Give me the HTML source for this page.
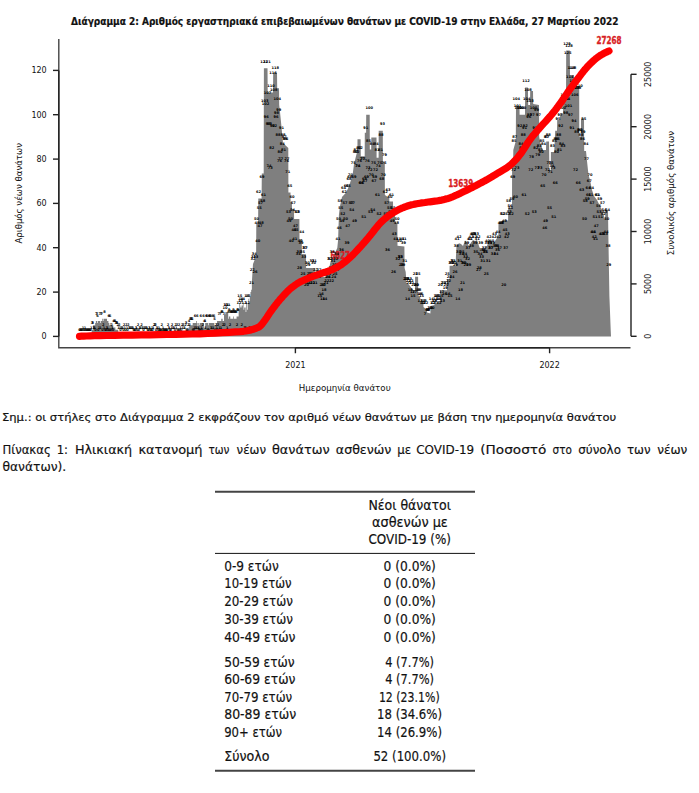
<!DOCTYPE html><html><head><meta charset="utf-8"><title>Διάγραμμα 2</title><style>html,body{margin:0;padding:0;background:#fff;}svg{display:block;}</style></head><body><svg width="699" height="793" viewBox="0 0 699 793">
<rect width="699" height="793" fill="#fff"/>
<text x="71" y="24.6" font-family='"DejaVu Sans", "Liberation Sans", sans-serif' font-weight="bold" font-stretch="condensed" font-size="10.8" textLength="547.5" lengthAdjust="spacingAndGlyphs" fill="#111" stroke="#111" stroke-width="0.2">Διάγραμμα 2: Αριθμός εργαστηριακά επιβεβαιωμένων θανάτων με COVID-19 στην Ελλάδα, 27 Μαρτίου 2022</text>
<path d="M79.15,336.4L79.15,336.4L79.85,336.4L79.85,336.4L80.54,336.4L80.54,336.4L81.24,336.4L81.24,336.4L81.94,336.4L81.94,336.4L82.63,336.4L82.63,334.2L83.33,334.2L83.33,336.4L84.03,336.4L84.03,336.4L84.72,336.4L84.72,334.2L85.42,334.2L85.42,336.4L86.12,336.4L86.12,336.4L86.81,336.4L86.81,336.4L87.51,336.4L87.51,336.4L88.21,336.4L88.21,336.4L88.90,336.4L88.90,336.4L89.60,336.4L89.60,336.4L90.30,336.4L90.30,336.4L90.99,336.4L90.99,334.2L91.69,334.2L91.69,329.7L92.39,329.7L92.39,329.7L93.08,329.7L93.08,325.3L93.78,325.3L93.78,325.3L94.47,325.3L94.47,325.3L95.17,325.3L95.17,323.1L95.87,323.1L95.87,320.9L96.56,320.9L96.56,320.9L97.26,320.9L97.26,323.1L97.96,323.1L97.96,320.9L98.65,320.9L98.65,320.9L99.35,320.9L99.35,320.9L100.05,320.9L100.05,323.1L100.74,323.1L100.74,320.9L101.44,320.9L101.44,320.9L102.14,320.9L102.14,318.7L102.83,318.7L102.83,320.9L103.53,320.9L103.53,318.7L104.23,318.7L104.23,318.7L104.92,318.7L104.92,318.7L105.62,318.7L105.62,318.7L106.32,318.7L106.32,318.7L107.01,318.7L107.01,320.9L107.71,320.9L107.71,320.9L108.40,320.9L108.40,323.1L109.10,323.1L109.10,325.3L109.80,325.3L109.80,323.1L110.49,323.1L110.49,325.3L111.19,325.3L111.19,325.3L111.89,325.3L111.89,325.3L112.58,325.3L112.58,325.3L113.28,325.3L113.28,327.5L113.98,327.5L113.98,327.5L114.67,327.5L114.67,327.5L115.37,327.5L115.37,329.7L116.07,329.7L116.07,329.7L116.76,329.7L116.76,329.7L117.46,329.7L117.46,329.7L118.16,329.7L118.16,332.0L118.85,332.0L118.85,332.0L119.55,332.0L119.55,336.4L120.25,336.4L120.25,336.4L120.94,336.4L120.94,334.2L121.64,334.2L121.64,336.4L122.33,336.4L122.33,336.4L123.03,336.4L123.03,336.4L123.73,336.4L123.73,332.0L124.42,332.0L124.42,334.2L125.12,334.2L125.12,334.2L125.82,334.2L125.82,336.4L126.51,336.4L126.51,334.2L127.21,334.2L127.21,334.2L127.91,334.2L127.91,332.0L128.60,332.0L128.60,334.2L129.30,334.2L129.30,334.2L130.00,334.2L130.00,334.2L130.69,334.2L130.69,334.2L131.39,334.2L131.39,334.2L132.09,334.2L132.09,334.2L132.78,334.2L132.78,334.2L133.48,334.2L133.48,334.2L134.18,334.2L134.18,334.2L134.87,334.2L134.87,336.4L135.57,336.4L135.57,334.2L136.26,334.2L136.26,334.2L136.96,334.2L136.96,336.4L137.66,336.4L137.66,336.4L138.35,336.4L138.35,334.2L139.05,334.2L139.05,334.2L139.75,334.2L139.75,334.2L140.44,334.2L140.44,334.2L141.14,334.2L141.14,336.4L141.84,336.4L141.84,334.2L142.53,334.2L142.53,336.4L143.23,336.4L143.23,336.4L143.93,336.4L143.93,334.2L144.62,334.2L144.62,334.2L145.32,334.2L145.32,334.2L146.02,334.2L146.02,334.2L146.71,334.2L146.71,334.2L147.41,334.2L147.41,336.4L148.11,336.4L148.11,336.4L148.80,336.4L148.80,334.2L149.50,334.2L149.50,334.2L150.19,334.2L150.19,336.4L150.89,336.4L150.89,334.2L151.59,334.2L151.59,334.2L152.28,334.2L152.28,336.4L152.98,336.4L152.98,334.2L153.68,334.2L153.68,334.2L154.37,334.2L154.37,334.2L155.07,334.2L155.07,332.0L155.77,332.0L155.77,336.4L156.46,336.4L156.46,334.2L157.16,334.2L157.16,334.2L157.86,334.2L157.86,334.2L158.55,334.2L158.55,334.2L159.25,334.2L159.25,336.4L159.95,336.4L159.95,336.4L160.64,336.4L160.64,334.2L161.34,334.2L161.34,332.0L162.04,332.0L162.04,336.4L162.73,336.4L162.73,334.2L163.43,334.2L163.43,336.4L164.12,336.4L164.12,332.0L164.82,332.0L164.82,336.4L165.52,336.4L165.52,336.4L166.21,336.4L166.21,336.4L166.91,336.4L166.91,336.4L167.61,336.4L167.61,332.0L168.30,332.0L168.30,334.2L169.00,334.2L169.00,334.2L169.70,334.2L169.70,332.0L170.39,332.0L170.39,336.4L171.09,336.4L171.09,334.2L171.79,334.2L171.79,336.4L172.48,336.4L172.48,334.2L173.18,334.2L173.18,334.2L173.88,334.2L173.88,334.2L174.57,334.2L174.57,336.4L175.27,336.4L175.27,336.4L175.97,336.4L175.97,334.2L176.66,334.2L176.66,332.0L177.36,332.0L177.36,334.2L178.05,334.2L178.05,336.4L178.75,336.4L178.75,332.0L179.45,332.0L179.45,336.4L180.14,336.4L180.14,334.2L180.84,334.2L180.84,332.0L181.54,332.0L181.54,332.0L182.23,332.0L182.23,334.2L182.93,334.2L182.93,332.0L183.63,332.0L183.63,336.4L184.32,336.4L184.32,334.2L185.02,334.2L185.02,332.0L185.72,332.0L185.72,329.7L186.41,329.7L186.41,329.7L187.11,329.7L187.11,329.7L187.81,329.7L187.81,329.7L188.50,329.7L188.50,327.5L189.20,327.5L189.20,325.3L189.90,325.3L189.90,325.3L190.59,325.3L190.59,325.3L191.29,325.3L191.29,325.3L191.98,325.3L191.98,325.3L192.68,325.3L192.68,323.1L193.38,323.1L193.38,323.1L194.07,323.1L194.07,323.1L194.77,323.1L194.77,323.1L195.47,323.1L195.47,323.1L196.16,323.1L196.16,320.9L196.86,320.9L196.86,323.1L197.56,323.1L197.56,327.5L198.25,327.5L198.25,323.1L198.95,323.1L198.95,325.3L199.65,325.3L199.65,323.1L200.34,323.1L200.34,323.1L201.04,323.1L201.04,323.1L201.74,323.1L201.74,323.1L202.43,323.1L202.43,323.1L203.13,323.1L203.13,323.1L203.83,323.1L203.83,327.5L204.52,327.5L204.52,327.5L205.22,327.5L205.22,323.1L205.91,323.1L205.91,323.1L206.61,323.1L206.61,323.1L207.31,323.1L207.31,323.1L208.00,323.1L208.00,325.3L208.70,325.3L208.70,323.1L209.40,323.1L209.40,323.1L210.09,323.1L210.09,323.1L210.79,323.1L210.79,323.1L211.49,323.1L211.49,323.1L212.18,323.1L212.18,323.1L212.88,323.1L212.88,323.1L213.58,323.1L213.58,323.1L214.27,323.1L214.27,325.3L214.97,325.3L214.97,325.3L215.67,325.3L215.67,325.3L216.36,325.3L216.36,323.1L217.06,323.1L217.06,320.9L217.76,320.9L217.76,320.9L218.45,320.9L218.45,320.9L219.15,320.9L219.15,320.9L219.84,320.9L219.84,320.9L220.54,320.9L220.54,320.9L221.24,320.9L221.24,318.7L221.93,318.7L221.93,318.7L222.63,318.7L222.63,320.9L223.33,320.9L223.33,320.9L224.02,320.9L224.02,314.2L224.72,314.2L224.72,314.2L225.42,314.2L225.42,312.0L226.11,312.0L226.11,312.0L226.81,312.0L226.81,312.0L227.51,312.0L227.51,312.0L228.20,312.0L228.20,318.7L228.90,318.7L228.90,316.4L229.60,316.4L229.60,316.4L230.29,316.4L230.29,318.7L230.99,318.7L230.99,318.7L231.69,318.7L231.69,318.7L232.38,318.7L232.38,318.7L233.08,318.7L233.08,316.4L233.77,316.4L233.77,318.7L234.47,318.7L234.47,318.7L235.17,318.7L235.17,318.7L235.86,318.7L235.86,318.7L236.56,318.7L236.56,316.4L237.26,316.4L237.26,316.4L237.95,316.4L237.95,316.4L238.65,316.4L238.65,309.8L239.35,309.8L239.35,303.1L240.04,303.1L240.04,307.6L240.74,307.6L240.74,305.4L241.44,305.4L241.44,307.6L242.13,307.6L242.13,305.4L242.83,305.4L242.83,303.1L243.53,303.1L243.53,309.8L244.22,309.8L244.22,307.6L244.92,307.6L244.92,307.6L245.62,307.6L245.62,312.0L246.31,312.0L246.31,303.1L247.01,303.1L247.01,309.8L247.70,309.8L247.70,303.1L248.40,303.1L248.40,298.7L249.10,298.7L249.10,303.1L249.79,303.1L249.79,296.5L250.49,296.5L250.49,292.1L251.19,292.1L251.19,289.8L251.88,289.8L251.88,280.8L252.00,280.0L253.00,264.0L255.00,259.0L256.10,257.0L256.30,223.6L258.10,223.6L258.30,198.6L261.60,198.6L261.80,173.6L263.70,173.6L263.90,68.2L267.50,68.2L267.70,92.4L273.00,92.4L273.20,72.8L277.00,72.8L277.20,88.3L279.00,88.3L279.20,105.0L279.80,110.0L281.80,130.0L283.00,143.0L288.30,148.0L288.40,192.5L290.50,192.5L290.60,202.0L291.90,202.0L292.00,209.0L294.00,209.0L294.10,219.0L298.80,219.0L298.90,219.0L299.40,219.0L299.50,239.2L301.80,239.2L301.90,254.0L306.00,254.3L306.10,268.0L314.70,268.0L315.00,274.0L320.00,277.0L325.00,277.0L328.00,273.0L330.50,262.0L337.30,248.0L338.10,240.0L338.90,215.0L340.00,206.0L342.00,197.0L345.70,193.0L347.80,189.0L350.00,183.0L352.60,175.0L354.00,164.0L356.80,153.0L357.40,153.0L357.50,139.3L360.60,139.3L360.80,156.3L364.70,156.3L364.80,132.7L366.10,132.7L366.20,114.7L369.70,114.7L369.80,149.4L371.20,149.4L371.30,137.6L376.50,137.6L376.60,157.7L378.60,157.7L378.70,130.7L382.80,130.7L382.90,161.9L384.80,161.9L384.90,195.0L389.30,198.0L389.40,201.4L393.00,201.4L393.20,216.0L395.00,216.0L395.20,222.0L397.40,224.0L397.50,245.8L404.40,246.5L404.60,268.0L405.70,272.0L406.50,283.0L409.00,284.5L411.00,287.4L413.00,290.0L415.00,290.0L415.10,276.8L418.10,276.8L418.20,295.0L420.30,297.6L420.40,301.0L423.40,302.0L423.50,307.0L426.90,310.0L427.00,312.5L430.40,313.5L430.50,306.0L434.50,305.0L434.60,302.4L437.00,302.4L437.90,301.0L439.90,301.0L440.00,290.3L447.00,290.3L447.10,279.0L449.50,279.0L449.60,265.7L455.80,265.7L455.90,257.0L456.50,246.0L459.00,243.3L461.00,244.0L463.00,246.0L465.00,240.6L467.00,242.4L469.00,246.0L471.00,242.4L473.00,240.0L475.00,241.0L477.00,240.0L479.00,246.0L481.00,251.0L483.00,250.0L485.00,247.0L487.00,246.0L489.00,240.0L491.00,242.0L493.00,244.0L495.00,241.0L497.00,238.0L498.40,236.0L498.50,223.8L501.90,223.8L502.00,220.5L508.10,220.5L508.20,208.0L512.00,208.0L512.10,168.0L513.20,165.0L513.30,150.0L515.80,141.0L516.00,105.7L519.50,105.7L519.60,114.7L525.00,114.7L525.10,87.6L527.90,87.6L528.20,105.0L530.00,105.0L530.20,91.0L533.00,91.0L533.20,104.0L539.00,105.0L539.20,137.0L541.00,145.7L543.00,150.0L546.00,150.0L546.20,141.4L549.00,141.4L549.40,170.0L550.80,170.0L550.90,152.0L554.20,152.0L555.20,130.7L557.00,130.7L557.20,120.0L560.00,120.0L560.20,113.6L563.00,113.6L563.20,100.7L566.00,100.7L566.20,50.5L569.80,50.5L570.00,75.0L574.00,75.0L574.20,86.0L579.20,86.0L579.30,136.5L580.90,136.5L581.00,119.0L584.00,119.0L584.20,151.0L586.00,151.0L587.00,161.0L588.50,175.0L590.00,180.0L592.00,190.0L594.00,196.0L597.00,200.0L600.00,206.0L603.00,212.0L605.00,220.0L605.50,210.3L608.00,210.3L608.30,232.0L609.40,296.0L610.70,330.0L611.00,336.4Z" fill="#7f7f7f"/>
<g font-family='"DejaVu Sans", "Liberation Sans", sans-serif' font-weight="bold" font-stretch="condensed" font-size="10.6" fill="#d81c24" stroke="#d81c24" stroke-width="0.35"><text x="330.5" y="258.8" textLength="19.5" lengthAdjust="spacingAndGlyphs">6827</text><text x="448.3" y="186.7" textLength="25" lengthAdjust="spacingAndGlyphs">13639</text><text x="596.5" y="43.8" textLength="25" lengthAdjust="spacingAndGlyphs">27268</text></g>
<g font-family='"DejaVu Sans", "Liberation Sans", sans-serif' font-size="3.6" font-weight="bold" text-anchor="middle" fill="#000"><text x="79.5" y="330.7">0</text><text x="80.2" y="330.7">0</text><text x="80.9" y="330.7">0</text><text x="81.6" y="330.7">0</text><text x="82.3" y="330.7">0</text><text x="83.0" y="328.5">1</text><text x="83.7" y="330.7">0</text><text x="84.4" y="330.7">0</text><text x="85.1" y="328.5">1</text><text x="85.8" y="330.7">0</text><text x="86.5" y="330.7">0</text><text x="87.2" y="330.7">0</text><text x="87.9" y="330.7">0</text><text x="88.6" y="330.7">0</text><text x="89.3" y="330.7">0</text><text x="89.9" y="330.7">0</text><text x="90.6" y="330.7">0</text><text x="91.3" y="328.5">1</text><text x="92.0" y="324.0">3</text><text x="92.7" y="324.0">3</text><text x="93.4" y="328.5">1</text><text x="94.1" y="328.5">1</text><text x="94.8" y="328.5">1</text><text x="95.5" y="330.7">0</text><text x="96.2" y="315.2">7</text><text x="96.9" y="315.2">7</text><text x="97.6" y="317.4">6</text><text x="98.3" y="330.7">0</text><text x="99.0" y="328.5">1</text><text x="99.7" y="315.2">7</text><text x="100.4" y="328.5">1</text><text x="101.1" y="315.2">7</text><text x="101.8" y="315.2">7</text><text x="102.5" y="330.7">0</text><text x="103.2" y="326.3">2</text><text x="103.9" y="328.5">1</text><text x="104.6" y="313.0">8</text><text x="105.3" y="330.7">0</text><text x="106.0" y="330.7">0</text><text x="106.7" y="328.5">1</text><text x="107.4" y="328.5">1</text><text x="108.1" y="330.7">0</text><text x="108.8" y="317.4">6</text><text x="109.4" y="330.7">0</text><text x="110.1" y="317.4">6</text><text x="110.8" y="330.7">0</text><text x="111.5" y="326.3">2</text><text x="112.2" y="328.5">1</text><text x="112.9" y="330.7">0</text><text x="113.6" y="321.8">4</text><text x="114.3" y="321.8">4</text><text x="115.0" y="321.8">4</text><text x="115.7" y="324.0">3</text><text x="116.4" y="324.0">3</text><text x="117.1" y="324.0">3</text><text x="117.8" y="326.3">2</text><text x="118.5" y="328.5">1</text><text x="119.2" y="326.3">2</text><text x="119.9" y="328.5">1</text><text x="120.6" y="330.7">0</text><text x="121.3" y="328.5">1</text><text x="122.0" y="328.5">1</text><text x="122.7" y="328.5">1</text><text x="123.4" y="330.7">0</text><text x="124.1" y="326.3">2</text><text x="124.8" y="328.5">1</text><text x="125.5" y="330.7">0</text><text x="126.2" y="326.3">2</text><text x="126.9" y="328.5">1</text><text x="127.6" y="330.7">0</text><text x="128.3" y="326.3">2</text><text x="129.0" y="328.5">1</text><text x="129.6" y="328.5">1</text><text x="130.3" y="328.5">1</text><text x="131.0" y="328.5">1</text><text x="131.7" y="328.5">1</text><text x="132.4" y="328.5">1</text><text x="133.1" y="328.5">1</text><text x="133.8" y="330.7">0</text><text x="134.5" y="330.7">0</text><text x="135.2" y="330.7">0</text><text x="135.9" y="328.5">1</text><text x="136.6" y="328.5">1</text><text x="137.3" y="330.7">0</text><text x="138.0" y="326.3">2</text><text x="138.7" y="330.7">0</text><text x="139.4" y="328.5">1</text><text x="140.1" y="328.5">1</text><text x="140.8" y="328.5">1</text><text x="141.5" y="326.3">2</text><text x="142.2" y="328.5">1</text><text x="142.9" y="328.5">1</text><text x="143.6" y="330.7">0</text><text x="144.3" y="328.5">1</text><text x="145.0" y="328.5">1</text><text x="145.7" y="328.5">1</text><text x="146.4" y="328.5">1</text><text x="147.1" y="328.5">1</text><text x="147.8" y="330.7">0</text><text x="148.5" y="330.7">0</text><text x="149.2" y="328.5">1</text><text x="149.8" y="328.5">1</text><text x="150.5" y="330.7">0</text><text x="151.2" y="330.7">0</text><text x="151.9" y="328.5">1</text><text x="152.6" y="330.7">0</text><text x="153.3" y="328.5">1</text><text x="154.0" y="326.3">2</text><text x="154.7" y="326.3">2</text><text x="155.4" y="326.3">2</text><text x="156.1" y="330.7">0</text><text x="156.8" y="328.5">1</text><text x="157.5" y="328.5">1</text><text x="158.2" y="330.7">0</text><text x="158.9" y="328.5">1</text><text x="159.6" y="330.7">0</text><text x="160.3" y="330.7">0</text><text x="161.0" y="330.7">0</text><text x="161.7" y="326.3">2</text><text x="162.4" y="330.7">0</text><text x="163.1" y="328.5">1</text><text x="163.8" y="330.7">0</text><text x="164.5" y="330.7">0</text><text x="165.2" y="330.7">0</text><text x="165.9" y="330.7">0</text><text x="166.6" y="330.7">0</text><text x="167.3" y="330.7">0</text><text x="168.0" y="326.3">2</text><text x="168.7" y="328.5">1</text><text x="169.3" y="328.5">1</text><text x="170.0" y="330.7">0</text><text x="170.7" y="330.7">0</text><text x="171.4" y="328.5">1</text><text x="172.1" y="326.3">2</text><text x="172.8" y="328.5">1</text><text x="173.5" y="328.5">1</text><text x="174.2" y="328.5">1</text><text x="174.9" y="330.7">0</text><text x="175.6" y="326.3">2</text><text x="176.3" y="328.5">1</text><text x="177.0" y="326.3">2</text><text x="177.7" y="330.7">0</text><text x="178.4" y="330.7">0</text><text x="179.1" y="326.3">2</text><text x="179.8" y="330.7">0</text><text x="180.5" y="328.5">1</text><text x="181.2" y="330.7">0</text><text x="181.9" y="326.3">2</text><text x="182.6" y="328.5">1</text><text x="183.3" y="326.3">2</text><text x="184.0" y="328.5">1</text><text x="184.7" y="328.5">1</text><text x="185.4" y="326.3">2</text><text x="186.1" y="324.0">3</text><text x="186.8" y="330.7">0</text><text x="187.5" y="330.7">0</text><text x="188.2" y="326.3">2</text><text x="188.9" y="321.8">4</text><text x="189.5" y="326.3">2</text><text x="190.2" y="319.6">5</text><text x="190.9" y="319.6">5</text><text x="191.6" y="319.6">5</text><text x="192.3" y="319.6">5</text><text x="193.0" y="330.7">0</text><text x="193.7" y="330.7">0</text><text x="194.4" y="328.5">1</text><text x="195.1" y="317.4">6</text><text x="195.8" y="328.5">1</text><text x="196.5" y="328.5">1</text><text x="197.2" y="317.4">6</text><text x="197.9" y="328.5">1</text><text x="198.6" y="328.5">1</text><text x="199.3" y="330.7">0</text><text x="200.0" y="330.7">0</text><text x="200.7" y="317.4">6</text><text x="201.4" y="328.5">1</text><text x="202.1" y="330.7">0</text><text x="202.8" y="326.3">2</text><text x="203.5" y="317.4">6</text><text x="204.2" y="321.8">4</text><text x="204.9" y="321.8">4</text><text x="205.6" y="328.5">1</text><text x="206.3" y="317.4">6</text><text x="207.0" y="317.4">6</text><text x="207.7" y="330.7">0</text><text x="208.4" y="330.7">0</text><text x="209.0" y="317.4">6</text><text x="209.7" y="317.4">6</text><text x="210.4" y="317.4">6</text><text x="211.1" y="328.5">1</text><text x="211.8" y="328.5">1</text><text x="212.5" y="317.4">6</text><text x="213.2" y="328.5">1</text><text x="213.9" y="317.4">6</text><text x="214.6" y="319.6">5</text><text x="215.3" y="330.7">0</text><text x="216.0" y="326.3">2</text><text x="216.7" y="328.5">1</text><text x="217.4" y="330.7">0</text><text x="218.1" y="326.3">2</text><text x="218.8" y="315.2">7</text><text x="219.5" y="328.5">1</text><text x="220.2" y="315.2">7</text><text x="220.9" y="328.5">1</text><text x="221.6" y="313.0">8</text><text x="222.3" y="313.0">8</text><text x="223.0" y="326.3">2</text><text x="223.7" y="315.2">7</text><text x="224.4" y="326.3">2</text><text x="225.1" y="308.5">10</text><text x="225.8" y="306.3">11</text><text x="226.5" y="306.3">11</text><text x="227.2" y="328.5">1</text><text x="227.9" y="306.3">11</text><text x="228.6" y="313.0">8</text><text x="229.2" y="310.7">9</text><text x="229.9" y="326.3">2</text><text x="230.6" y="313.0">8</text><text x="231.3" y="313.0">8</text><text x="232.0" y="313.0">8</text><text x="232.7" y="313.0">8</text><text x="233.4" y="310.7">9</text><text x="234.1" y="313.0">8</text><text x="234.8" y="313.0">8</text><text x="235.5" y="313.0">8</text><text x="236.2" y="313.0">8</text><text x="236.9" y="326.3">2</text><text x="237.6" y="310.7">9</text><text x="238.3" y="310.7">9</text><text x="239.0" y="304.1">12</text><text x="239.7" y="297.4">15</text><text x="240.4" y="301.9">13</text><text x="241.1" y="299.7">14</text><text x="241.8" y="326.3">2</text><text x="242.5" y="299.7">14</text><text x="243.2" y="330.7">0</text><text x="243.9" y="304.1">12</text><text x="244.6" y="328.5">1</text><text x="245.3" y="328.5">1</text><text x="246.0" y="328.5">1</text><text x="246.7" y="297.4">15</text><text x="247.4" y="304.1">12</text><text x="248.1" y="297.4">15</text><text x="248.7" y="330.7">0</text><text x="249.4" y="328.5">1</text><text x="250.1" y="328.5">1</text><text x="250.8" y="330.7">0</text><text x="251.5" y="284.1">21</text><text x="252.2" y="270.8">27</text><text x="252.9" y="259.8">32</text><text x="253.6" y="257.5">33</text><text x="254.3" y="255.3">34</text><text x="255.0" y="273.1">26</text><text x="255.7" y="257.5">33</text><text x="256.4" y="219.9">50</text><text x="257.1" y="224.3">48</text><text x="257.8" y="242.0">40</text><text x="258.5" y="193.3">62</text><text x="259.2" y="208.8">55</text><text x="259.9" y="226.5">47</text><text x="260.6" y="204.3">57</text><text x="261.3" y="224.3">48</text><text x="262.0" y="177.7">69</text><text x="262.7" y="202.1">58</text><text x="263.4" y="195.5">61</text><text x="264.1" y="62.5">121</text><text x="264.8" y="102.4">103</text><text x="265.5" y="104.6">102</text><text x="266.2" y="117.9">96</text><text x="266.9" y="62.5">121</text><text x="267.6" y="93.5">107</text><text x="268.3" y="124.5">93</text><text x="268.9" y="166.7">74</text><text x="269.6" y="124.5">93</text><text x="270.3" y="168.9">73</text><text x="271.0" y="86.9">110</text><text x="271.7" y="148.9">82</text><text x="272.4" y="126.8">92</text><text x="273.1" y="73.6">116</text><text x="273.8" y="91.3">108</text><text x="274.5" y="126.8">92</text><text x="275.2" y="69.1">118</text><text x="275.9" y="117.9">96</text><text x="276.6" y="113.5">98</text><text x="277.3" y="100.2">104</text><text x="278.0" y="135.6">88</text><text x="278.7" y="111.2">99</text><text x="279.4" y="162.2">76</text><text x="280.1" y="153.4">80</text><text x="280.8" y="160.0">77</text><text x="281.5" y="129.0">91</text><text x="282.2" y="144.5">84</text><text x="282.9" y="135.6">88</text><text x="283.6" y="151.1">81</text><text x="284.3" y="137.8">87</text><text x="285.0" y="140.1">86</text><text x="285.7" y="140.1">86</text><text x="286.4" y="162.2">76</text><text x="287.1" y="160.0">77</text><text x="287.8" y="173.3">71</text><text x="288.4" y="213.2">53</text><text x="289.1" y="222.1">49</text><text x="289.8" y="186.6">65</text><text x="290.5" y="219.9">50</text><text x="291.2" y="242.0">40</text><text x="291.9" y="197.7">60</text><text x="292.6" y="211.0">54</text><text x="293.3" y="204.3">57</text><text x="294.0" y="230.9">45</text><text x="294.7" y="239.8">41</text><text x="295.4" y="226.5">47</text><text x="296.1" y="230.9">45</text><text x="296.8" y="213.2">53</text><text x="297.5" y="213.2">53</text><text x="298.2" y="255.3">34</text><text x="298.9" y="253.1">35</text><text x="299.6" y="268.6">28</text><text x="300.3" y="242.0">40</text><text x="301.0" y="244.2">39</text><text x="301.7" y="233.2">44</text><text x="302.4" y="253.1">35</text><text x="303.1" y="275.3">25</text><text x="303.8" y="257.5">33</text><text x="304.5" y="248.7">37</text><text x="305.2" y="248.7">37</text><text x="305.9" y="279.7">23</text><text x="306.6" y="286.4">20</text><text x="307.3" y="264.2">30</text><text x="308.0" y="266.4">29</text><text x="308.6" y="284.1">21</text><text x="309.3" y="275.3">25</text><text x="310.0" y="284.1">21</text><text x="310.7" y="275.3">25</text><text x="311.4" y="277.5">24</text><text x="312.1" y="262.0">31</text><text x="312.8" y="284.1">21</text><text x="313.5" y="264.2">30</text><text x="314.2" y="262.0">31</text><text x="314.9" y="284.1">21</text><text x="315.6" y="270.8">27</text><text x="316.3" y="275.3">25</text><text x="317.0" y="273.1">26</text><text x="317.7" y="275.3">25</text><text x="318.4" y="277.5">24</text><text x="319.1" y="270.8">27</text><text x="319.8" y="297.4">15</text><text x="320.5" y="275.3">25</text><text x="321.2" y="295.2">16</text><text x="321.9" y="286.4">20</text><text x="322.6" y="299.7">14</text><text x="323.3" y="286.4">20</text><text x="324.0" y="290.8">18</text><text x="324.7" y="299.7">14</text><text x="325.4" y="273.1">26</text><text x="326.1" y="284.1">21</text><text x="326.8" y="281.9">22</text><text x="327.5" y="277.5">24</text><text x="328.2" y="277.5">24</text><text x="328.8" y="275.3">25</text><text x="329.5" y="259.8">32</text><text x="330.2" y="259.8">32</text><text x="330.9" y="268.6">28</text><text x="331.6" y="281.9">22</text><text x="332.3" y="253.1">35</text><text x="333.0" y="262.0">31</text><text x="333.7" y="277.5">24</text><text x="334.4" y="266.4">29</text><text x="335.1" y="275.3">25</text><text x="335.8" y="259.8">32</text><text x="336.5" y="255.3">34</text><text x="337.2" y="270.8">27</text><text x="337.9" y="239.8">41</text><text x="338.6" y="219.9">50</text><text x="339.3" y="228.7">46</text><text x="340.0" y="202.1">58</text><text x="340.7" y="208.8">55</text><text x="341.4" y="250.9">36</text><text x="342.1" y="222.1">49</text><text x="342.8" y="215.4">52</text><text x="343.5" y="188.8">64</text><text x="344.2" y="193.3">62</text><text x="344.9" y="204.3">57</text><text x="345.6" y="219.9">50</text><text x="346.3" y="186.6">65</text><text x="347.0" y="244.2">39</text><text x="347.7" y="226.5">47</text><text x="348.3" y="186.6">65</text><text x="349.0" y="180.0">68</text><text x="349.7" y="177.7">69</text><text x="350.4" y="175.5">70</text><text x="351.1" y="204.3">57</text><text x="351.8" y="211.0">54</text><text x="352.5" y="204.3">57</text><text x="353.2" y="164.4">75</text><text x="353.9" y="177.7">69</text><text x="354.6" y="222.1">49</text><text x="355.3" y="153.4">80</text><text x="356.0" y="151.1">81</text><text x="356.7" y="153.4">80</text><text x="357.4" y="166.7">74</text><text x="358.1" y="166.7">74</text><text x="358.8" y="148.9">82</text><text x="359.5" y="162.2">76</text><text x="360.2" y="148.9">82</text><text x="360.9" y="184.4">66</text><text x="361.6" y="184.4">66</text><text x="362.3" y="160.0">77</text><text x="363.0" y="160.0">77</text><text x="363.7" y="217.6">51</text><text x="364.4" y="180.0">68</text><text x="365.1" y="182.2">67</text><text x="365.8" y="129.0">91</text><text x="366.5" y="177.7">69</text><text x="367.2" y="162.2">76</text><text x="367.9" y="168.9">73</text><text x="368.5" y="142.3">85</text><text x="369.2" y="109.0">100</text><text x="369.9" y="171.1">72</text><text x="370.6" y="213.2">53</text><text x="371.3" y="175.5">70</text><text x="372.0" y="144.5">84</text><text x="372.7" y="211.0">54</text><text x="373.4" y="164.4">75</text><text x="374.1" y="182.2">67</text><text x="374.8" y="177.7">69</text><text x="375.5" y="171.1">72</text><text x="376.2" y="144.5">84</text><text x="376.9" y="151.1">81</text><text x="377.6" y="195.5">61</text><text x="378.3" y="166.7">74</text><text x="379.0" y="215.4">52</text><text x="379.7" y="164.4">75</text><text x="380.4" y="151.1">81</text><text x="381.1" y="135.6">88</text><text x="381.8" y="180.0">68</text><text x="382.5" y="124.5">93</text><text x="383.2" y="175.5">70</text><text x="383.9" y="164.4">75</text><text x="384.6" y="155.6">79</text><text x="385.3" y="193.3">62</text><text x="386.0" y="215.4">52</text><text x="386.7" y="204.3">57</text><text x="387.4" y="250.9">36</text><text x="388.0" y="191.0">63</text><text x="388.7" y="215.4">52</text><text x="389.4" y="208.8">55</text><text x="390.1" y="197.7">60</text><text x="390.8" y="213.2">53</text><text x="391.5" y="195.5">61</text><text x="392.2" y="222.1">49</text><text x="392.9" y="208.8">55</text><text x="393.6" y="273.1">26</text><text x="394.3" y="235.4">43</text><text x="395.0" y="211.0">54</text><text x="395.7" y="239.8">41</text><text x="396.4" y="224.3">48</text><text x="397.1" y="219.9">50</text><text x="397.8" y="259.8">32</text><text x="398.5" y="239.8">41</text><text x="399.2" y="242.0">40</text><text x="399.9" y="257.5">33</text><text x="400.6" y="257.5">33</text><text x="401.3" y="266.4">29</text><text x="402.0" y="239.8">41</text><text x="402.7" y="266.4">29</text><text x="403.4" y="244.2">39</text><text x="404.1" y="239.8">41</text><text x="404.8" y="262.0">31</text><text x="405.5" y="279.7">23</text><text x="406.2" y="279.7">23</text><text x="406.9" y="279.7">23</text><text x="407.6" y="299.7">14</text><text x="408.2" y="281.9">22</text><text x="408.9" y="284.1">21</text><text x="409.6" y="279.7">23</text><text x="410.3" y="290.8">18</text><text x="411.0" y="281.9">22</text><text x="411.7" y="284.1">21</text><text x="412.4" y="293.0">17</text><text x="413.1" y="297.4">15</text><text x="413.8" y="286.4">20</text><text x="414.5" y="293.0">17</text><text x="415.2" y="275.3">25</text><text x="415.9" y="286.4">20</text><text x="416.6" y="286.4">20</text><text x="417.3" y="290.8">18</text><text x="418.0" y="275.3">25</text><text x="418.7" y="290.8">18</text><text x="419.4" y="295.2">16</text><text x="420.1" y="301.9">13</text><text x="420.8" y="295.2">16</text><text x="421.5" y="297.4">15</text><text x="422.2" y="304.1">12</text><text x="422.9" y="301.9">13</text><text x="423.6" y="304.1">12</text><text x="424.3" y="301.9">13</text><text x="425.0" y="315.2">7</text><text x="425.7" y="304.1">12</text><text x="426.4" y="310.7">9</text><text x="427.1" y="310.7">9</text><text x="427.8" y="310.7">9</text><text x="428.4" y="310.7">9</text><text x="429.1" y="310.7">9</text><text x="429.8" y="308.5">10</text><text x="430.5" y="308.5">10</text><text x="431.2" y="299.7">14</text><text x="431.9" y="308.5">10</text><text x="432.6" y="304.1">12</text><text x="433.3" y="304.1">12</text><text x="434.0" y="301.9">13</text><text x="434.7" y="301.9">13</text><text x="435.4" y="299.7">14</text><text x="436.1" y="297.4">15</text><text x="436.8" y="297.4">15</text><text x="437.5" y="297.4">15</text><text x="438.2" y="299.7">14</text><text x="438.9" y="304.1">12</text><text x="439.6" y="299.7">14</text><text x="440.3" y="286.4">20</text><text x="441.0" y="297.4">15</text><text x="441.7" y="293.0">17</text><text x="442.4" y="301.9">13</text><text x="443.1" y="284.1">21</text><text x="443.8" y="284.1">21</text><text x="444.5" y="295.2">16</text><text x="445.2" y="288.6">19</text><text x="445.9" y="286.4">20</text><text x="446.6" y="284.1">21</text><text x="447.3" y="275.3">25</text><text x="447.9" y="295.2">16</text><text x="448.6" y="281.9">22</text><text x="449.3" y="277.5">24</text><text x="450.0" y="297.4">15</text><text x="450.7" y="264.2">30</text><text x="451.4" y="264.2">30</text><text x="452.1" y="277.5">24</text><text x="452.8" y="262.0">31</text><text x="453.5" y="262.0">31</text><text x="454.2" y="264.2">30</text><text x="454.9" y="273.1">26</text><text x="455.6" y="266.4">29</text><text x="456.3" y="246.5">38</text><text x="457.0" y="239.8">41</text><text x="457.7" y="299.7">14</text><text x="458.4" y="253.1">35</text><text x="459.1" y="237.6">42</text><text x="459.8" y="262.0">31</text><text x="460.5" y="290.8">18</text><text x="461.2" y="255.3">34</text><text x="461.9" y="253.1">35</text><text x="462.6" y="284.1">21</text><text x="463.3" y="264.2">30</text><text x="464.0" y="264.2">30</text><text x="464.7" y="255.3">34</text><text x="465.4" y="257.5">33</text><text x="466.1" y="266.4">29</text><text x="466.8" y="244.2">39</text><text x="467.5" y="259.8">32</text><text x="468.1" y="248.7">37</text><text x="468.8" y="266.4">29</text><text x="469.5" y="239.8">41</text><text x="470.2" y="239.8">41</text><text x="470.9" y="237.6">42</text><text x="471.6" y="246.5">38</text><text x="472.3" y="235.4">43</text><text x="473.0" y="235.4">43</text><text x="473.7" y="235.4">43</text><text x="474.4" y="237.6">42</text><text x="475.1" y="244.2">39</text><text x="475.8" y="253.1">35</text><text x="476.5" y="235.4">43</text><text x="477.2" y="239.8">41</text><text x="477.9" y="237.6">42</text><text x="478.6" y="270.8">27</text><text x="479.3" y="268.6">28</text><text x="480.0" y="255.3">34</text><text x="480.7" y="244.2">39</text><text x="481.4" y="257.5">33</text><text x="482.1" y="250.9">36</text><text x="482.8" y="262.0">31</text><text x="483.5" y="250.9">36</text><text x="484.2" y="248.7">37</text><text x="484.9" y="253.1">35</text><text x="485.6" y="253.1">35</text><text x="486.3" y="275.3">25</text><text x="487.0" y="244.2">39</text><text x="487.6" y="242.0">40</text><text x="488.3" y="262.0">31</text><text x="489.0" y="237.6">42</text><text x="489.7" y="244.2">39</text><text x="490.4" y="248.7">37</text><text x="491.1" y="248.7">37</text><text x="491.8" y="242.0">40</text><text x="492.5" y="244.2">39</text><text x="493.2" y="255.3">34</text><text x="493.9" y="237.6">42</text><text x="494.6" y="235.4">43</text><text x="495.3" y="246.5">38</text><text x="496.0" y="255.3">34</text><text x="496.7" y="246.5">38</text><text x="497.4" y="250.9">36</text><text x="498.1" y="233.2">44</text><text x="498.8" y="237.6">42</text><text x="499.5" y="248.7">37</text><text x="500.2" y="224.3">48</text><text x="500.9" y="224.3">48</text><text x="501.6" y="224.3">48</text><text x="502.3" y="215.4">52</text><text x="503.0" y="215.4">52</text><text x="503.7" y="286.4">20</text><text x="504.4" y="222.1">49</text><text x="505.1" y="230.9">45</text><text x="505.8" y="248.7">37</text><text x="506.5" y="237.6">42</text><text x="507.2" y="235.4">43</text><text x="507.8" y="215.4">52</text><text x="508.5" y="202.1">58</text><text x="509.2" y="213.2">53</text><text x="509.9" y="206.6">56</text><text x="510.6" y="208.8">55</text><text x="511.3" y="215.4">52</text><text x="512.0" y="199.9">59</text><text x="512.7" y="177.7">69</text><text x="513.4" y="171.1">72</text><text x="514.1" y="142.3">85</text><text x="514.8" y="137.8">87</text><text x="515.5" y="197.7">60</text><text x="516.2" y="100.2">104</text><text x="516.9" y="168.9">73</text><text x="517.6" y="106.8">101</text><text x="518.3" y="109.0">100</text><text x="519.0" y="155.6">79</text><text x="519.7" y="126.8">92</text><text x="520.4" y="109.0">100</text><text x="521.1" y="144.5">84</text><text x="521.8" y="148.9">82</text><text x="522.5" y="109.0">100</text><text x="523.2" y="135.6">88</text><text x="523.9" y="195.5">61</text><text x="524.6" y="129.0">91</text><text x="525.3" y="126.8">92</text><text x="526.0" y="82.4">112</text><text x="526.7" y="100.2">104</text><text x="527.3" y="215.4">52</text><text x="528.0" y="91.3">108</text><text x="528.7" y="117.9">96</text><text x="529.4" y="115.7">97</text><text x="530.1" y="102.4">103</text><text x="530.8" y="171.1">72</text><text x="531.5" y="157.8">78</text><text x="532.2" y="115.7">97</text><text x="532.9" y="135.6">88</text><text x="533.6" y="109.0">100</text><text x="534.3" y="213.2">53</text><text x="535.0" y="129.0">91</text><text x="535.7" y="148.9">82</text><text x="536.4" y="111.2">99</text><text x="537.1" y="168.9">73</text><text x="537.8" y="155.6">79</text><text x="538.5" y="115.7">97</text><text x="539.2" y="146.7">83</text><text x="539.9" y="168.9">73</text><text x="540.6" y="151.1">81</text><text x="541.3" y="153.4">80</text><text x="542.0" y="142.3">85</text><text x="542.7" y="186.6">65</text><text x="543.4" y="144.5">84</text><text x="544.1" y="175.5">70</text><text x="544.8" y="228.7">46</text><text x="545.5" y="222.1">49</text><text x="546.2" y="137.8">87</text><text x="546.9" y="137.8">87</text><text x="547.5" y="171.1">72</text><text x="548.2" y="135.6">88</text><text x="548.9" y="164.4">75</text><text x="549.6" y="208.8">55</text><text x="550.3" y="173.3">71</text><text x="551.0" y="164.4">75</text><text x="551.7" y="166.7">74</text><text x="552.4" y="146.7">83</text><text x="553.1" y="168.9">73</text><text x="553.8" y="217.6">51</text><text x="554.5" y="142.3">85</text><text x="555.2" y="184.4">66</text><text x="555.9" y="140.1">86</text><text x="556.6" y="153.4">80</text><text x="557.3" y="140.1">86</text><text x="558.0" y="120.1">95</text><text x="558.7" y="135.6">88</text><text x="559.4" y="151.1">81</text><text x="560.1" y="115.7">97</text><text x="560.8" y="126.8">92</text><text x="561.5" y="144.5">84</text><text x="562.2" y="109.0">100</text><text x="562.9" y="146.7">83</text><text x="563.6" y="100.2">104</text><text x="564.3" y="95.7">106</text><text x="565.0" y="100.2">104</text><text x="565.7" y="113.5">98</text><text x="566.4" y="100.2">104</text><text x="567.0" y="44.7">129</text><text x="567.7" y="53.6">125</text><text x="568.4" y="106.8">101</text><text x="569.1" y="47.0">128</text><text x="569.8" y="78.0">114</text><text x="570.5" y="115.7">97</text><text x="571.2" y="69.1">118</text><text x="571.9" y="129.0">91</text><text x="572.6" y="69.1">118</text><text x="573.3" y="82.4">112</text><text x="574.0" y="122.3">94</text><text x="574.7" y="95.7">106</text><text x="575.4" y="171.1">72</text><text x="576.1" y="89.1">109</text><text x="576.8" y="133.4">89</text><text x="577.5" y="89.1">109</text><text x="578.2" y="184.4">66</text><text x="578.9" y="86.9">110</text><text x="579.6" y="131.2">90</text><text x="580.3" y="131.2">90</text><text x="581.0" y="135.6">88</text><text x="581.7" y="191.0">63</text><text x="582.4" y="140.1">86</text><text x="583.1" y="133.4">89</text><text x="583.8" y="120.1">95</text><text x="584.5" y="219.9">50</text><text x="585.2" y="202.1">58</text><text x="585.9" y="144.5">84</text><text x="586.6" y="160.0">77</text><text x="587.2" y="199.9">59</text><text x="587.9" y="188.8">64</text><text x="588.6" y="195.5">61</text><text x="589.3" y="182.2">67</text><text x="590.0" y="175.5">70</text><text x="590.7" y="195.5">61</text><text x="591.4" y="188.8">64</text><text x="592.1" y="204.3">57</text><text x="592.8" y="233.2">44</text><text x="593.5" y="233.2">44</text><text x="594.2" y="237.6">42</text><text x="594.9" y="217.6">51</text><text x="595.6" y="239.8">41</text><text x="596.3" y="226.5">47</text><text x="597.0" y="195.5">61</text><text x="597.7" y="195.5">61</text><text x="598.4" y="206.6">56</text><text x="599.1" y="213.2">53</text><text x="599.8" y="199.9">59</text><text x="600.5" y="217.6">51</text><text x="601.2" y="235.4">43</text><text x="601.9" y="235.4">43</text><text x="602.6" y="204.3">57</text><text x="603.3" y="215.4">52</text><text x="604.0" y="211.0">54</text><text x="604.7" y="213.2">53</text><text x="605.4" y="235.4">43</text><text x="606.1" y="233.2">44</text><text x="606.8" y="219.9">50</text><text x="607.4" y="211.0">54</text><text x="608.1" y="246.5">38</text><text x="608.8" y="266.4">29</text></g>
<path d="M79.5,336.3L81.4,336.2L83.7,336.1L86.6,336.0L90.2,335.9L94.6,335.7L100.0,335.6L106.6,335.5L114.5,335.3L123.2,335.2L132.2,335.1L141.3,334.9L150.0,334.8L158.4,334.7L167.0,334.5L175.6,334.4L184.1,334.2L192.2,334.0L200.0,333.8L207.6,333.5L215.2,333.1L222.5,332.7L229.3,332.3L235.2,331.9L240.0,331.6L243.5,331.3L245.7,331.0L247.2,330.8L248.1,330.6L249.0,330.3L250.0,330.1L251.1,329.9L252.0,329.6L252.8,329.4L253.5,329.2L254.2,328.9L255.0,328.6L255.8,328.3L256.7,328.0L257.5,327.7L258.3,327.3L259.2,326.8L260.0,326.2L260.8,325.4L261.7,324.5L262.5,323.5L263.3,322.4L264.2,321.2L265.0,320.1L265.8,318.9L266.7,317.7L267.5,316.4L268.3,315.1L269.2,313.8L270.0,312.6L270.8,311.4L271.7,310.3L272.5,309.1L273.3,308.0L274.2,306.9L275.0,305.8L275.8,304.7L276.7,303.7L277.5,302.6L278.3,301.6L279.2,300.6L280.0,299.6L280.8,298.6L281.7,297.7L282.5,296.7L283.3,295.8L284.2,294.9L285.0,294.0L285.8,293.1L286.7,292.2L287.5,291.4L288.3,290.6L289.2,289.8L290.0,289.0L290.8,288.3L291.7,287.6L292.5,287.0L293.3,286.4L294.2,285.8L295.0,285.2L295.8,284.6L296.5,284.1L297.2,283.6L298.0,283.1L298.9,282.6L300.0,282.0L301.4,281.3L303.0,280.6L304.7,279.8L306.5,279.0L308.3,278.2L310.0,277.5L311.7,276.8L313.3,276.2L315.0,275.6L316.7,275.1L318.3,274.5L320.0,273.9L321.7,273.3L323.3,272.8L325.0,272.3L326.7,271.7L328.3,271.2L330.0,270.5L331.7,269.8L333.3,269.1L335.0,268.3L336.7,267.4L338.3,266.5L340.0,265.5L341.7,264.4L343.3,263.2L345.0,261.9L346.7,260.5L348.3,259.1L350.0,257.6L351.7,256.0L353.3,254.4L355.0,252.6L356.7,250.8L358.3,249.0L360.0,247.2L361.7,245.4L363.3,243.5L365.0,241.6L366.7,239.6L368.3,237.7L370.0,235.7L371.7,233.6L373.3,231.5L375.0,229.3L376.7,227.2L378.3,225.2L380.0,223.3L381.7,221.6L383.3,220.1L385.0,218.6L386.7,217.3L388.3,216.0L390.0,214.8L391.7,213.7L393.3,212.6L395.0,211.6L396.7,210.7L398.3,209.8L400.0,209.0L401.7,208.2L403.3,207.6L405.0,206.9L406.7,206.3L408.3,205.8L410.0,205.3L411.7,204.8L413.3,204.5L415.0,204.1L416.7,203.8L418.3,203.5L420.0,203.2L421.7,202.9L423.3,202.7L425.0,202.5L426.7,202.2L428.3,202.0L430.0,201.8L431.7,201.6L433.3,201.4L435.0,201.2L436.7,201.0L438.3,200.7L440.0,200.4L441.7,200.1L443.3,199.7L445.0,199.3L446.7,198.8L448.3,198.4L450.0,197.8L451.7,197.2L453.3,196.5L455.0,195.7L456.7,195.0L458.3,194.2L460.0,193.4L461.7,192.6L463.3,191.8L465.0,191.0L466.7,190.2L468.3,189.4L470.0,188.6L471.7,187.8L473.3,186.9L475.0,186.0L476.7,185.2L478.3,184.3L480.0,183.4L481.7,182.5L483.3,181.6L485.0,180.7L486.7,179.8L488.3,178.9L490.0,177.9L491.7,176.9L493.3,175.9L495.0,174.9L496.7,173.9L498.3,172.8L500.0,171.8L501.7,170.8L503.3,169.9L505.0,168.9L506.7,167.9L508.3,166.7L510.0,165.4L511.7,163.9L513.3,162.3L515.0,160.5L516.7,158.7L518.3,156.7L520.0,154.6L521.7,152.3L523.3,149.8L525.0,147.2L526.7,144.5L528.3,142.0L530.0,139.6L531.7,137.4L533.3,135.3L535.0,133.4L536.7,131.4L538.3,129.5L540.0,127.6L541.7,125.7L543.3,123.9L545.0,122.1L546.7,120.3L548.3,118.4L550.0,116.5L551.7,114.5L553.3,112.5L555.0,110.4L556.7,108.2L558.3,106.0L560.0,103.8L561.7,101.5L563.3,99.0L565.0,96.5L566.7,94.0L568.3,91.6L570.0,89.2L571.7,86.8L573.5,84.4L575.3,82.0L577.0,79.8L578.6,77.7L580.0,75.9L581.1,74.4L582.0,73.2L582.8,72.2L583.5,71.3L584.2,70.4L585.0,69.5L585.8,68.5L586.7,67.6L587.5,66.6L588.3,65.7L589.2,64.9L590.0,64.0L590.8,63.2L591.7,62.4L592.5,61.6L593.3,60.8L594.2,60.1L595.0,59.4L595.8,58.7L596.7,58.0L597.5,57.4L598.3,56.8L599.2,56.2L600.0,55.6L600.8,55.1L601.7,54.6L602.6,54.1L603.4,53.6L604.2,53.2L605.0,52.8L605.8,52.4L606.6,52.1L607.3,51.7L608.0,51.4L608.6,51.2L609.0,51.0" fill="none" stroke="#ff0000" stroke-width="7.2" stroke-linecap="round" stroke-linejoin="round"/>
<g stroke="#222" stroke-width="1.4" fill="none">
<path d="M58.8,38.9V347.8H630.5" stroke="#444"/>
<path d="M295.4,347.8H549.6M58.8,70.4V336.4"/>
<path d="M295.4,347.8V353.3M549.6,347.8V353.3"/>
<path d="M53,336.4H58.8"/>
<path d="M53,292.1H58.8"/>
<path d="M53,247.7H58.8"/>
<path d="M53,203.4H58.8"/>
<path d="M53,159.1H58.8"/>
<path d="M53,114.7H58.8"/>
<path d="M53,70.4H58.8"/>
<path d="M631,74.3V336.3"/>
<path d="M631,336.3H636.6"/>
<path d="M631,283.9H636.6"/>
<path d="M631,231.5H636.6"/>
<path d="M631,179.1H636.6"/>
<path d="M631,126.7H636.6"/>
<path d="M631,74.3H636.6"/>
</g>
<g font-family='"DejaVu Sans", "Liberation Sans", sans-serif' font-size="8" fill="#111">
<text x="46.7" y="339.3" text-anchor="end">0</text>
<text x="46.7" y="295.0" text-anchor="end">20</text>
<text x="46.7" y="250.6" text-anchor="end">40</text>
<text x="46.7" y="206.3" text-anchor="end">60</text>
<text x="46.7" y="162.0" text-anchor="end">80</text>
<text x="46.7" y="117.6" text-anchor="end">100</text>
<text x="46.7" y="73.3" text-anchor="end">120</text>
<text x="295.4" y="367.9" text-anchor="middle">2021</text>
<text x="549.6" y="367.9" text-anchor="middle">2022</text>
<text transform="translate(650.9,336.3) rotate(-90)" text-anchor="middle">0</text>
<text transform="translate(650.9,283.9) rotate(-90)" text-anchor="middle">5000</text>
<text transform="translate(650.9,231.5) rotate(-90)" text-anchor="middle">10000</text>
<text transform="translate(650.9,179.1) rotate(-90)" text-anchor="middle">15000</text>
<text transform="translate(650.9,126.7) rotate(-90)" text-anchor="middle">20000</text>
<text transform="translate(650.9,74.3) rotate(-90)" text-anchor="middle">25000</text>
<text x="344.7" y="391.2" text-anchor="middle" textLength="92" lengthAdjust="spacingAndGlyphs">Ημερομηνία θανάτου</text>
<text transform="translate(21.5,193.3) rotate(-90)" text-anchor="middle" textLength="100.6" lengthAdjust="spacingAndGlyphs">Αριθμός νέων θανάτων</text>
<text transform="translate(674,193.1) rotate(-90)" text-anchor="middle" textLength="124.2" lengthAdjust="spacingAndGlyphs">Συνολικός αριθμός θανάτων</text>
</g>
<text x="2" y="421.2" font-family='"DejaVu Sans", "Liberation Sans", sans-serif' fill="#111" stroke="#111" stroke-width="0.18" font-size="10.4" textLength="614.3" lengthAdjust="spacingAndGlyphs">Σημ.: οι στήλες στο Διάγραμμα 2 εκφράζουν τον αριθμό νέων θανάτων με βάση την ημερομηνία θανάτου</text>
<text x="2.4" y="453.6" font-family='"DejaVu Sans", "Liberation Sans", sans-serif' fill="#111" stroke="#111" stroke-width="0.18" font-size="13" textLength="48.4" lengthAdjust="spacingAndGlyphs">Πίνακας</text>
<text x="56.7" y="453.6" font-family='"DejaVu Sans", "Liberation Sans", sans-serif' fill="#111" stroke="#111" stroke-width="0.18" font-size="13" textLength="11.3" lengthAdjust="spacingAndGlyphs">1:</text>
<text x="74.9" y="453.6" font-family='"DejaVu Sans", "Liberation Sans", sans-serif' fill="#111" stroke="#111" stroke-width="0.18" font-size="13" textLength="57.3" lengthAdjust="spacingAndGlyphs">Ηλικιακή</text>
<text x="138.4" y="453.6" font-family='"DejaVu Sans", "Liberation Sans", sans-serif' fill="#111" stroke="#111" stroke-width="0.18" font-size="13" textLength="64.2" lengthAdjust="spacingAndGlyphs">κατανομή</text>
<text x="208.4" y="453.6" font-family='"DejaVu Sans", "Liberation Sans", sans-serif' fill="#111" stroke="#111" stroke-width="0.18" font-size="13" textLength="21.0" lengthAdjust="spacingAndGlyphs">των</text>
<text x="236.6" y="453.6" font-family='"DejaVu Sans", "Liberation Sans", sans-serif' fill="#111" stroke="#111" stroke-width="0.18" font-size="13" textLength="29.4" lengthAdjust="spacingAndGlyphs">νέων</text>
<text x="271.9" y="453.6" font-family='"DejaVu Sans", "Liberation Sans", sans-serif' fill="#111" stroke="#111" stroke-width="0.18" font-size="13" textLength="57.7" lengthAdjust="spacingAndGlyphs">θανάτων</text>
<text x="335.8" y="453.6" font-family='"DejaVu Sans", "Liberation Sans", sans-serif' fill="#111" stroke="#111" stroke-width="0.18" font-size="13" textLength="55.6" lengthAdjust="spacingAndGlyphs">ασθενών</text>
<text x="397.2" y="453.6" font-family='"DejaVu Sans", "Liberation Sans", sans-serif' fill="#111" stroke="#111" stroke-width="0.18" font-size="13" textLength="13.8" lengthAdjust="spacingAndGlyphs">με</text>
<text x="416.3" y="453.6" font-family='"DejaVu Sans", "Liberation Sans", sans-serif' fill="#111" stroke="#111" stroke-width="0.18" font-size="13" textLength="57.8" lengthAdjust="spacingAndGlyphs">COVID-19</text>
<text x="480.3" y="453.6" font-family='"DejaVu Sans", "Liberation Sans", sans-serif' fill="#111" stroke="#111" stroke-width="0.18" font-size="13" textLength="66.1" lengthAdjust="spacingAndGlyphs">(Ποσοστό</text>
<text x="552.6" y="453.6" font-family='"DejaVu Sans", "Liberation Sans", sans-serif' fill="#111" stroke="#111" stroke-width="0.18" font-size="13" textLength="19.4" lengthAdjust="spacingAndGlyphs">στο</text>
<text x="578.3" y="453.6" font-family='"DejaVu Sans", "Liberation Sans", sans-serif' fill="#111" stroke="#111" stroke-width="0.18" font-size="13" textLength="42.6" lengthAdjust="spacingAndGlyphs">σύνολο</text>
<text x="627" y="453.6" font-family='"DejaVu Sans", "Liberation Sans", sans-serif' fill="#111" stroke="#111" stroke-width="0.18" font-size="13" textLength="23.6" lengthAdjust="spacingAndGlyphs">των</text>
<text x="657.2" y="453.6" font-family='"DejaVu Sans", "Liberation Sans", sans-serif' fill="#111" stroke="#111" stroke-width="0.18" font-size="13" textLength="30.1" lengthAdjust="spacingAndGlyphs">νέων</text>
<text x="2.4" y="470.8" font-family='"DejaVu Sans", "Liberation Sans", sans-serif' fill="#111" stroke="#111" stroke-width="0.18" font-size="13" textLength="63.9" lengthAdjust="spacingAndGlyphs">θανάτων).</text>
<path d="M215,491.8H475" stroke="#444" stroke-width="2"/>
<path d="M215,553.4H475" stroke="#111" stroke-width="1"/>
<path d="M215,770.8H475" stroke="#444" stroke-width="2"/>
<text x="368.4" y="510.1" font-family='"DejaVu Sans", "Liberation Sans", sans-serif' fill="#111" stroke="#111" stroke-width="0.18" font-size="13.2" textLength="82.6" lengthAdjust="spacingAndGlyphs">Νέοι θάνατοι</text>
<text x="372" y="526.5" font-family='"DejaVu Sans", "Liberation Sans", sans-serif' fill="#111" stroke="#111" stroke-width="0.18" font-size="13.2" textLength="75.8" lengthAdjust="spacingAndGlyphs">ασθενών με</text>
<text x="368.4" y="544.3" font-family='"DejaVu Sans", "Liberation Sans", sans-serif' fill="#111" stroke="#111" stroke-width="0.18" font-size="13.2" textLength="82.6" lengthAdjust="spacingAndGlyphs">COVID-19 (%)</text>
<text x="224.2" y="570.5" font-family='"DejaVu Sans", "Liberation Sans", sans-serif' fill="#111" stroke="#111" stroke-width="0.18" font-size="13.2" textLength="54.5" lengthAdjust="spacingAndGlyphs">0-9 ετών</text>
<text x="383.6" y="570.5" font-family='"DejaVu Sans", "Liberation Sans", sans-serif' fill="#111" stroke="#111" stroke-width="0.18" font-size="13.2" textLength="52.2" lengthAdjust="spacingAndGlyphs">0 (0.0%)</text>
<text x="224.2" y="588.2" font-family='"DejaVu Sans", "Liberation Sans", sans-serif' fill="#111" stroke="#111" stroke-width="0.18" font-size="13.2" textLength="67.4" lengthAdjust="spacingAndGlyphs">10-19 ετών</text>
<text x="383.6" y="588.2" font-family='"DejaVu Sans", "Liberation Sans", sans-serif' fill="#111" stroke="#111" stroke-width="0.18" font-size="13.2" textLength="52.2" lengthAdjust="spacingAndGlyphs">0 (0.0%)</text>
<text x="224.2" y="606.0" font-family='"DejaVu Sans", "Liberation Sans", sans-serif' fill="#111" stroke="#111" stroke-width="0.18" font-size="13.2" textLength="68.7" lengthAdjust="spacingAndGlyphs">20-29 ετών</text>
<text x="383.6" y="606.0" font-family='"DejaVu Sans", "Liberation Sans", sans-serif' fill="#111" stroke="#111" stroke-width="0.18" font-size="13.2" textLength="52.2" lengthAdjust="spacingAndGlyphs">0 (0.0%)</text>
<text x="224.2" y="623.7" font-family='"DejaVu Sans", "Liberation Sans", sans-serif' fill="#111" stroke="#111" stroke-width="0.18" font-size="13.2" textLength="68.7" lengthAdjust="spacingAndGlyphs">30-39 ετών</text>
<text x="383.6" y="623.7" font-family='"DejaVu Sans", "Liberation Sans", sans-serif' fill="#111" stroke="#111" stroke-width="0.18" font-size="13.2" textLength="52.2" lengthAdjust="spacingAndGlyphs">0 (0.0%)</text>
<text x="224.2" y="641.6" font-family='"DejaVu Sans", "Liberation Sans", sans-serif' fill="#111" stroke="#111" stroke-width="0.18" font-size="13.2" textLength="71.3" lengthAdjust="spacingAndGlyphs">40-49 ετών</text>
<text x="383.6" y="641.6" font-family='"DejaVu Sans", "Liberation Sans", sans-serif' fill="#111" stroke="#111" stroke-width="0.18" font-size="13.2" textLength="52.2" lengthAdjust="spacingAndGlyphs">0 (0.0%)</text>
<text x="224.2" y="666.6" font-family='"DejaVu Sans", "Liberation Sans", sans-serif' fill="#111" stroke="#111" stroke-width="0.18" font-size="13.2" textLength="70.4" lengthAdjust="spacingAndGlyphs">50-59 ετών</text>
<text x="385.2" y="666.6" font-family='"DejaVu Sans", "Liberation Sans", sans-serif' fill="#111" stroke="#111" stroke-width="0.18" font-size="13.2" textLength="48.9" lengthAdjust="spacingAndGlyphs">4 (7.7%)</text>
<text x="224.2" y="683.9" font-family='"DejaVu Sans", "Liberation Sans", sans-serif' fill="#111" stroke="#111" stroke-width="0.18" font-size="13.2" textLength="71.2" lengthAdjust="spacingAndGlyphs">60-69 ετών</text>
<text x="385.2" y="683.9" font-family='"DejaVu Sans", "Liberation Sans", sans-serif' fill="#111" stroke="#111" stroke-width="0.18" font-size="13.2" textLength="48.9" lengthAdjust="spacingAndGlyphs">4 (7.7%)</text>
<text x="224.2" y="701.7" font-family='"DejaVu Sans", "Liberation Sans", sans-serif' fill="#111" stroke="#111" stroke-width="0.18" font-size="13.2" textLength="68.0" lengthAdjust="spacingAndGlyphs">70-79 ετών</text>
<text x="378.9" y="701.7" font-family='"DejaVu Sans", "Liberation Sans", sans-serif' fill="#111" stroke="#111" stroke-width="0.18" font-size="13.2" textLength="60.8" lengthAdjust="spacingAndGlyphs">12 (23.1%)</text>
<text x="224.2" y="719.1" font-family='"DejaVu Sans", "Liberation Sans", sans-serif' fill="#111" stroke="#111" stroke-width="0.18" font-size="13.2" textLength="72.0" lengthAdjust="spacingAndGlyphs">80-89 ετών</text>
<text x="377" y="719.1" font-family='"DejaVu Sans", "Liberation Sans", sans-serif' fill="#111" stroke="#111" stroke-width="0.18" font-size="13.2" textLength="65.0" lengthAdjust="spacingAndGlyphs">18 (34.6%)</text>
<text x="224.2" y="736.8" font-family='"DejaVu Sans", "Liberation Sans", sans-serif' fill="#111" stroke="#111" stroke-width="0.18" font-size="13.2" textLength="57.8" lengthAdjust="spacingAndGlyphs">90+ ετών</text>
<text x="377" y="736.8" font-family='"DejaVu Sans", "Liberation Sans", sans-serif' fill="#111" stroke="#111" stroke-width="0.18" font-size="13.2" textLength="65.0" lengthAdjust="spacingAndGlyphs">14 (26.9%)</text>
<text x="224.2" y="761.2" font-family='"DejaVu Sans", "Liberation Sans", sans-serif' fill="#111" stroke="#111" stroke-width="0.18" font-size="13.2" textLength="45.2" lengthAdjust="spacingAndGlyphs">Σύνολο</text>
<text x="373.4" y="761.2" font-family='"DejaVu Sans", "Liberation Sans", sans-serif' fill="#111" stroke="#111" stroke-width="0.18" font-size="13.2" textLength="72.6" lengthAdjust="spacingAndGlyphs">52 (100.0%)</text>
</svg></body></html>
